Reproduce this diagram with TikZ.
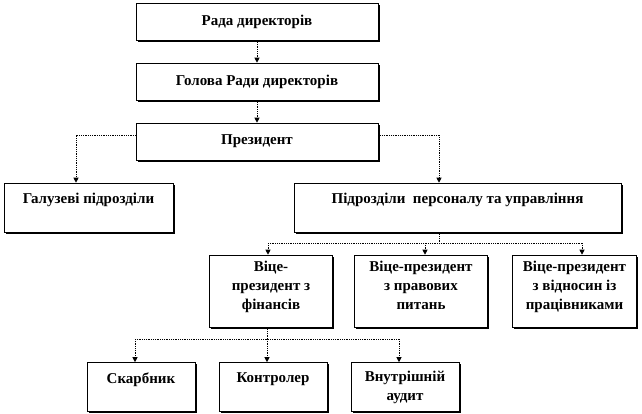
\documentclass[tikz,border=0pt]{standalone}
\usepackage{fontspec}
\setmainfont{Liberation Serif}
\newfontfamily\tnrfont{Liberation Serif}[BoldFont={Liberation Serif Bold}]
\usetikzlibrary{arrows.meta,shadows}
\begin{document}
\begin{tikzpicture}[x=1pt,y=-1pt,
 box/.style={draw=black, line width=0.6pt, fill=white, inner sep=0pt, align=center,
   font=\tnrfont\bfseries\fontsize{15}{19}\selectfont,
   drop shadow={shadow xshift=1.6pt, shadow yshift=-1.6pt, fill=black, opacity=1}},
 conn/.style={densely dotted, line width=0.8pt, -{Triangle[width=5pt,length=5pt]}},
 bar/.style={densely dotted, line width=0.8pt}]
\useasboundingbox (0,0) rectangle (642,414);
\node[box, minimum width=242pt, minimum height=37pt] (b1) at (257,21.5) {Рада директорів};
\node[box, minimum width=242pt, minimum height=37pt] (b2) at (257,81.5) {Голова Ради директорів};
\node[box, minimum width=242pt, minimum height=37pt] (b3) at (257,141.5) {Президент};
\node[box, minimum width=169pt, minimum height=49pt] (gal) at (88.5,207.5) {Галузеві підрозділи\\[-6pt] \strut};
\node[box, minimum width=327pt, minimum height=49pt] (pid) at (457.5,207.5) {Підрозділи\ \ персоналу та управління\\[-6pt] \strut};
\node[box, minimum width=123pt, minimum height=72pt] (va) at (271,291) {Віце-\\президент з\\фінансів\\[-14pt] \strut};
\node[box, minimum width=133pt, minimum height=72pt] (vb) at (421,291) {Віце-президент\\з правових\\питань\\[-14pt] \strut};
\node[box, minimum width=124pt, minimum height=72pt] (vc) at (574.5,291) {Віце-президент\\з відносин із\\працівниками\\[-14pt] \strut};
\node[box, minimum width=108pt, minimum height=49pt] (sk) at (141,387) {Скарбник\\[-6pt] \strut};
\node[box, minimum width=108pt, minimum height=49pt] (ko) at (273,387) {Контролер\\[-6pt] \strut};
\node[box, minimum width=108pt, minimum height=49pt] (vn) at (405,387) {Внутрішній\\аудит};
% connectors
\draw[conn] (b1) -- (b2);
\draw[conn] (b2) -- (b3);
\coordinate (gl) at (76,135);
\coordinate (gr) at (439,135);
\draw[conn] (b3.west |- gl) -- (gl) -- (gl |- gal.north);
\draw[conn] (b3.east |- gr) -- (gr) -- (gr |- pid.north);
\coordinate (pj) at (439,243);
\coordinate (pl) at (268,243);
\coordinate (pm) at (425,243);
\coordinate (pr) at (582,243);
\draw[bar] (pid.south -| pj) -- (pj);
\draw[bar] (pl) -- (pr);
\draw[conn] (pl) -- (pl |- va.north);
\draw[conn] (pm) -- (pm |- vb.north);
\draw[conn] (pr) -- (pr |- vc.north);
\coordinate (vj) at (267,339);
\coordinate (sl) at (135,339);
\coordinate (sr) at (399,339);
\draw[bar] (va.south -| vj) -- (vj);
\draw[bar] (sl) -- (sr);
\draw[conn] (sl) -- (sl |- sk.north);
\draw[conn] (vj) -- (vj |- ko.north);
\draw[conn] (sr) -- (sr |- vn.north);
\end{tikzpicture}
\end{document}
